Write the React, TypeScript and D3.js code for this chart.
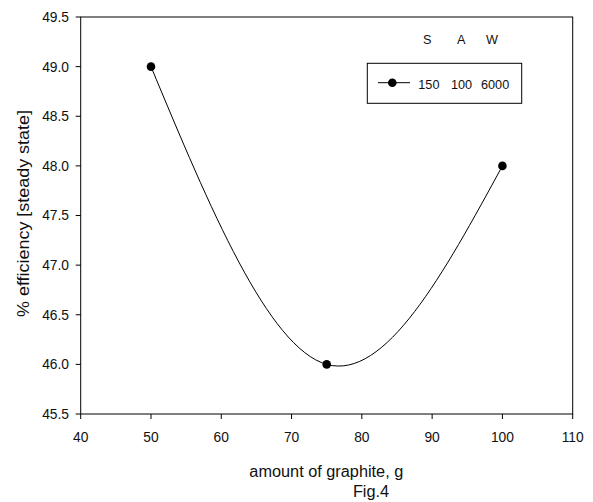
import React from "react";
import * as d3 from "d3";

const graphite = [50, 75, 100];
const efficiency = [49.0, 46.0, 48.0];
const xTicks = [40, 50, 60, 70, 80, 90, 100, 110];
const yTicks = [45.5, 46.0, 46.5, 47.0, 47.5, 48.0, 48.5, 49.0, 49.5];
const legendHeaders = ["S", "A", "W"];
const legendValues = ["150", "100", "6000"];

const W = 593;
const H = 502;
const M = { left: 80.7, right: 572.7, top: 17, bottom: 414 };
const FONT = "'Liberation Sans', Arial, sans-serif";

export default function App() {
  const x = d3.scaleLinear().domain([40, 110]).range([M.left, M.right]);
  const y = d3.scaleLinear().domain([45.5, 49.5]).range([M.bottom, M.top]);
  const pts: [number, number][] = graphite.map((g, i) => [x(g), y(efficiency[i])]);
  const path = d3.line().curve(d3.curveNatural)(pts) || "";

  const legX = 367.3, legY = 63.3, legW = 154.4, legH = 40;
  const headerX = [423, 457, 486];
  const valueX = [418.3, 451, 481];

  return (
    <svg width={W} height={H} style={{ position: "absolute", left: 0, top: 0, background: "#fff" }}
      fontFamily={FONT}>
      <rect x={0} y={0} width={W} height={H} fill="#fff" />
      <rect x={M.left} y={M.top} width={M.right - M.left} height={M.bottom - M.top}
        fill="none" stroke="#000" strokeWidth={1} />
      {yTicks.map((t) => (
        <g key={"y" + t}>
          <line x1={M.left - 5} x2={M.left} y1={y(t)} y2={y(t)} stroke="#000" />
          <text x={M.left - 11.7} y={y(t)} dy="0.36em" textAnchor="end" fontSize={13.8} fill="#111">
            {t.toFixed(1)}
          </text>
        </g>
      ))}
      {xTicks.map((t) => (
        <g key={"x" + t}>
          <line x1={x(t)} x2={x(t)} y1={M.bottom} y2={M.bottom + 5} stroke="#000" />
          <text x={x(t)} y={442} textAnchor="middle" fontSize={13.8} fill="#111">
            {t}
          </text>
        </g>
      ))}
      <path d={path} fill="none" stroke="#000" strokeWidth={1} />
      {pts.map((p, i) => (
        <circle key={i} cx={p[0]} cy={p[1]} r={4.3} fill="#000" />
      ))}
      {legendHeaders.map((h, i) => (
        <text key={h} x={headerX[i]} y={43.5} fontSize={12.7} fill="#111">{h}</text>
      ))}
      <rect x={legX} y={legY} width={legW} height={legH} fill="#fff" stroke="#000" strokeWidth={1} />
      <line x1={378} x2={410} y1={82.7} y2={82.7} stroke="#000" />
      <circle cx={392.3} cy={82.7} r={4.3} fill="#000" />
      {legendValues.map((v, i) => (
        <text key={v} x={valueX[i]} y={89} fontSize={12.7} fill="#111">{v}</text>
      ))}
      <text transform="translate(326.3,477) scale(1,1.06)" textAnchor="middle" fontSize={16.3} fill="#111">
        amount of graphite, g
      </text>
      <text transform="translate(371,496.5) scale(1,1.06)" textAnchor="middle" fontSize={16.3} fill="#111">Fig.4</text>
      <text transform="translate(29,213.5) rotate(-90) scale(1.1,1)" textAnchor="middle"
        fontSize={16.3} fill="#111">
        % efficiency [steady state]
      </text>
    </svg>
  );
}
